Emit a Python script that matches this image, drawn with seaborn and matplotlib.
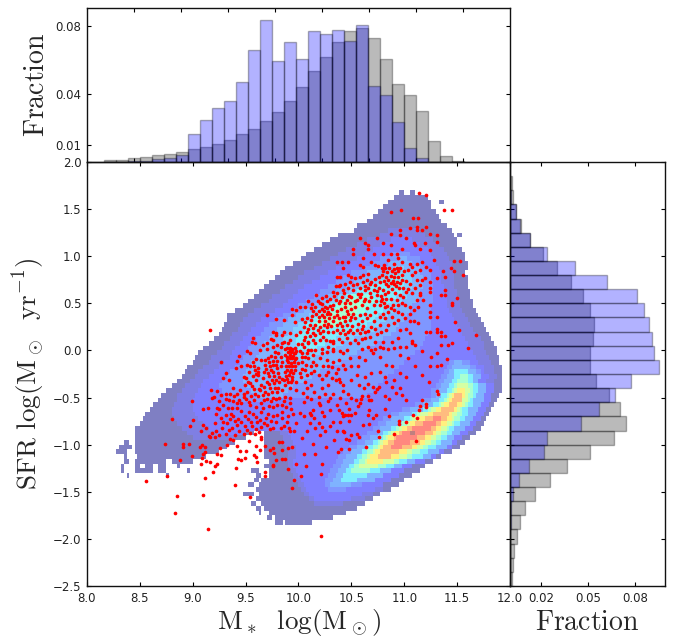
import numpy as np
import matplotlib
matplotlib.use("Agg")
import matplotlib.pyplot as plt
import seaborn as sns

# top histogram, fractions per mass bin
mass_all = [.0012,.0014,.0022,.0029,.0039,.0049,.0059,.0075,.0090,.0108,.0131,.0163,.0194,.0239,.0292,
            .0357,.0443,.0535,.0620,.0704,.0769,.0786,.0727,.0608,.0461,.0394,.0300,.0124,.0037,.0008]
mass_sample = [0,0,.0006,.0006,.0018,.0025,.0041,.0163,.0245,.0316,.0357,.0471,.0657,.0833,.0596,
               .0708,.0608,.0769,.0751,.0775,.0710,.0804,.0449,.0394,.0233,.0084,.0025,.0002,0,0]

# right histogram, fractions per SFR bin, listed from the top bin down
sfr_all = [.0011,.0021,.0040,.0070,.0130,.0209,.0298,.0387,.0464,.0511,.0534,.0530,.0509,.0509,.0551,
           .0632,.0704,.0740,.0664,.0509,.0364,.0253,.0160,.0096,.0062,.0043,.0028,.0021,.0011]
sfr_sample = [0,.0006,.0036,.0062,.0130,.0234,.0415,.0617,.0809,.0855,.0885,.0906,.0919,.0953,.0774,
              .0670,.0570,.0451,.0234,.0217,.0119,.0055,.0021,.0009,.0004,0,0,0,0]

# density map, one row per 0.05 dex from y=1.70 down: x edge, level, x edge, level ... (-1 = empty)
density_rows = [
 [10.96,0,11.00,-1,11.06,0,11.10],
 [10.90,0,11.22],
 [10.85,0,11.24,-1,11.33,0,11.37],
 [10.80,0,11.26],
 [10.76,0,11.30],
 [10.70,0,11.33],
 [10.64,0,11.36],
 [10.56,0,11.39],
 [10.53,0,10.85,.5,11.15,0,11.45],
 [10.37,0,10.78,.5,11.20,0,11.47,-1,11.51,0,11.55],
 [10.30,0,10.65,.5,10.88,1,11.08,.5,11.28,0,11.49],
 [10.22,0,10.55,.5,10.78,1,11.15,.5,11.32,0,11.50],
 [10.15,0,10.45,.5,10.70,1,11.22,.5,11.38,0,11.55],
 [10.08,0,10.38,.5,10.62,1,10.88,1.5,11.05,1,11.25,.5,11.40,0,11.57],
 [10.02,0,10.30,.5,10.55,1,10.78,1.5,10.95,2,11.02,1.5,11.15,1,11.28,.5,11.42,0,11.58],
 [9.95,0,10.22,.5,10.45,1,10.68,1.5,10.85,2,11.08,1.5,11.18,1,11.30,.5,11.44,0,11.60],
 [9.88,0,10.15,.5,10.36,1,10.60,1.5,10.75,2,10.90,2.5,11.00,2,11.15,1.5,11.22,1,11.33,.5,11.45,0,11.60],
 [9.83,0,10.05,.5,10.28,1,10.50,1.5,10.66,2,10.82,2.5,11.05,2,11.15,1.5,11.25,1,11.35,.5,11.47,0,11.58],
 [9.77,0,10.00,.5,10.20,1,10.42,1.5,10.58,2,10.75,2.5,10.88,3,11.00,2.5,11.08,2,11.18,1.5,11.25,1,11.36,.5,11.48,0,11.60],
 [9.72,0,9.95,.5,10.12,1,10.36,1.5,10.52,2,10.68,2.5,10.78,3,11.00,2.5,11.08,2,11.18,1.5,11.27,1,11.36,.5,11.48,0,11.60],
 [9.68,0,9.88,.5,10.05,1,10.28,1.5,10.44,2,10.58,2.5,10.68,3,11.00,2.5,11.08,2,11.18,1.5,11.27,1,11.38,.5,11.48,0,11.60],
 [9.62,0,9.82,.5,10.00,1,10.20,1.5,10.36,2,10.48,2.5,10.56,3,10.98,2.5,11.05,2,11.16,1.5,11.27,1,11.38,.5,11.50,0,11.62],
 [9.57,0,9.76,.5,9.95,1,10.14,1.5,10.28,2,10.38,2.5,10.44,3,10.50,3.5,10.68,3,10.92,2.5,11.02,2,11.14,1.5,11.27,1,11.40,.5,11.50,0,11.62],
 [9.52,0,9.72,.5,9.90,1,10.08,1.5,10.20,2,10.30,2.5,10.36,3,10.42,3.5,10.46,4,10.58,3.5,10.72,3,10.88,2.5,10.98,2,11.12,1.5,11.27,1,11.40,.5,11.52,0,11.64],
 [9.47,0,9.66,.5,9.85,1,10.00,1.5,10.12,2,10.24,2.5,10.30,3,10.36,3.5,10.40,4,10.60,3.5,10.68,3,10.84,2.5,10.95,2,11.08,1.5,11.25,1,11.40,.5,11.52,0,11.65],
 [9.40,0,9.58,.5,9.78,1,9.92,1.5,10.04,2,10.16,2.5,10.24,3,10.30,3.5,10.34,4,10.56,3.5,10.62,3,10.80,2.5,10.90,2,11.05,1.5,11.25,1,11.42,.5,11.55,0,11.68],
 [9.33,0,9.52,.5,9.70,1,9.85,1.5,9.97,2,10.10,2.5,10.18,3,10.24,3.5,10.28,4,10.50,3.5,10.58,3,10.76,2.5,10.86,2,11.02,1.5,11.25,1,11.45,.5,11.58,0,11.70],
 [9.32,0,9.48,.5,9.65,1,9.78,1.5,9.90,2,10.05,2.5,10.12,3,10.18,3.5,10.24,4,10.42,3.5,10.50,3,10.72,2.5,10.82,2,11.00,1.5,11.25,1,11.48,.5,11.60,0,11.72],
 [9.30,0,9.44,.5,9.60,1,9.72,1.5,9.85,2,10.00,2.5,10.08,3,10.16,3.5,10.22,4,10.35,3.5,10.42,3,10.66,2.5,10.78,2,10.96,1.5,11.25,1,11.50,.5,11.62,0,11.75],
 [9.28,0,9.42,.5,9.56,1,9.68,1.5,9.80,2,9.95,2.5,10.04,3,10.55,2.5,10.72,2,10.92,1.5,11.25,1,11.52,.5,11.65,0,11.78],
 [9.25,0,9.38,.5,9.53,1,9.64,1.5,9.76,2,9.90,2.5,10.00,3,10.45,2.5,10.62,2,10.88,1.5,11.22,1,11.55,.5,11.68,0,11.80],
 [9.20,0,9.34,.5,9.48,1,9.60,1.5,9.72,2,9.86,2.5,9.98,3,10.34,2.5,10.52,2,10.80,1.5,11.20,1,11.58,.5,11.72,0,11.83],
 [9.15,0,9.30,.5,9.44,1,9.55,1.5,9.68,2,9.84,2.5,9.98,3,10.25,2.5,10.42,2,10.72,1.5,11.18,1,11.60,.5,11.74,0,11.85],
 [9.10,0,9.27,.5,9.40,1,9.52,1.5,9.65,2,9.84,2.5,10.00,3,10.18,2.5,10.34,2,10.64,1.5,11.15,1,11.62,.5,11.76,0,11.87],
 [9.06,0,9.22,.5,9.37,1,9.50,1.5,9.62,2,9.84,2.5,10.24,2,10.56,1.5,11.10,1,11.65,.5,11.78,0,11.88],
 [9.03,0,9.18,.5,9.34,1,9.47,1.5,9.60,2,9.84,2.5,10.14,2,10.48,1.5,11.05,1,11.68,.5,11.80,0,11.90],
 [9.00,0,9.14,.5,9.30,1,9.44,1.5,9.56,2,10.40,1.5,11.00,1,11.42,1.5,11.48,2,11.56,1.5,11.62,1,11.70,.5,11.82,0,11.90],
 [8.96,0,9.10,.5,9.25,1,9.40,1.5,9.52,2,10.30,1.5,10.95,1,11.40,1.5,11.45,2,11.62,1.5,11.68,1,11.74,.5,11.84,0,11.92],
 [8.93,0,9.06,.5,9.20,1,9.36,1.5,9.50,2,10.20,1.5,10.90,1,11.37,1.5,11.42,2,11.48,3,11.60,2,11.68,1.5,11.72,1,11.76,.5,11.85,0,11.93],
 [8.89,0,9.02,.5,9.15,1,9.32,1.5,9.48,2,10.12,1.5,10.85,1,11.35,1.5,11.40,2,11.47,3,11.52,4,11.60,3,11.66,2,11.72,1,11.80,.5,11.87,0,11.93],
 [8.85,0,8.98,.5,9.10,1,9.28,1.5,9.48,2,10.04,1.5,10.80,1,11.32,1.5,11.38,2,11.45,3,11.50,4,11.60,3,11.64,2,11.70,1,11.78,.5,11.86,0,11.93],
 [8.80,0,8.93,.5,9.07,1,9.26,1.5,9.50,2,9.96,1.5,10.75,1,11.30,1.5,11.35,2,11.42,3,11.47,4,11.50,5,11.60,4,11.64,3,11.70,2,11.78,1,11.86,0,11.93],
 [8.76,0,8.90,.5,9.05,1,9.28,1.5,9.55,2,9.90,1.5,10.70,1,11.26,1.5,11.32,2,11.40,3,11.45,4,11.48,5,11.50,6,11.58,5,11.62,4,11.65,3,11.70,2,11.78,1,11.85,0,11.93],
 [8.71,0,8.86,.5,9.02,1,9.30,1.5,9.60,2,9.84,1.5,10.66,1,11.24,1.5,11.30,2,11.36,3,11.40,4,11.43,5,11.45,6,11.48,7,11.55,6,11.58,5,11.61,4,11.64,3,11.68,2,11.75,1,11.83,0,11.91],
 [8.67,0,8.84,.5,9.00,1,9.34,1.5,9.78,1,11.18,1.5,11.25,2,11.33,3,11.37,4,11.40,5,11.42,6,11.46,7,11.54,6,11.56,5,11.59,4,11.62,3,11.66,2,11.74,1,11.82,0,11.88],
 [8.63,0,8.82,.5,9.00,1,11.10,1.5,11.18,2,11.28,3,11.32,4,11.35,5,11.38,6,11.42,7,11.51,6,11.54,5,11.57,4,11.60,3,11.64,2,11.72,1,11.80,0,11.86],
 [8.60,0,8.80,.5,9.00,1,10.98,1.5,11.05,2,11.17,3,11.22,4,11.26,5,11.30,6,11.35,7,11.47,6,11.50,5,11.53,4,11.56,3,11.61,2,11.70,1,11.77,0,11.83],
 [8.56,0,8.80,.5,9.02,1,10.88,1.5,10.95,2,11.07,3,11.12,4,11.16,5,11.22,6,11.28,7,11.42,6,11.46,5,11.50,4,11.54,3,11.59,2,11.68,1,11.74,0,11.80],
 [8.53,0,8.82,.5,9.05,1,10.80,1.5,10.88,2,11.00,3,11.04,4,11.08,5,11.13,6,11.20,7,11.28,8,11.35,7,11.40,6,11.44,5,11.48,4,11.52,3,11.57,2,11.66,1,11.72,0,11.77],
 [8.49,0,8.85,.5,9.10,1,10.75,1.5,10.83,2,10.94,3,10.98,4,11.02,5,11.06,6,11.10,7,11.18,8,11.30,7,11.36,6,11.40,5,11.44,4,11.48,3,11.53,2,11.62,1,11.68,0,11.75],
 [8.45,0,8.90,.5,9.15,1,10.70,1.5,10.78,2,10.88,3,10.92,4,10.95,5,10.98,6,11.03,7,11.08,8,11.25,7,11.31,6,11.35,5,11.39,4,11.43,3,11.48,2,11.57,1,11.64,0,11.72],
 [8.45,0,8.95,.5,9.22,1,9.50,0,9.58,-1,9.68,0,9.82,.5,9.90,1,10.66,1.5,10.74,2,10.80,3,10.84,4,10.87,5,10.90,6,10.94,7,10.98,8,11.05,9,11.10,8,11.20,7,11.27,6,11.31,5,11.35,4,11.40,3,11.45,2,11.53,1,11.60,0,11.67],
 [8.45,0,9.00,.5,9.40,0,9.50,-1,9.68,0,9.84,.5,9.92,1,10.60,1.5,10.68,2,10.75,3,10.80,4,10.82,5,10.85,6,10.89,7,10.93,8,11.12,7,11.20,6,11.25,5,11.29,4,11.34,3,11.40,2,11.48,1,11.55,0,11.62],
 [8.34,0,8.40,-1,8.45,0,9.40,-1,9.68,0,9.86,.5,9.95,1,10.55,1.5,10.62,2,10.71,3,10.76,4,10.78,5,10.81,6,10.85,7,10.90,8,11.05,7,11.14,6,11.20,5,11.24,4,11.29,3,11.35,2,11.45,1,11.50,0,11.57],
 [8.30,0,8.42,-1,8.45,0,9.33,-1,9.68,0,9.88,.5,9.97,1,10.48,1.5,10.56,2,10.66,3,10.71,4,10.74,5,10.77,6,10.80,7,10.87,8,10.97,7,11.07,6,11.13,5,11.18,4,11.23,3,11.30,2,11.40,1,11.46,0,11.52],
 [8.28,0,8.38,-1,8.46,0,9.25,-1,9.68,0,9.90,.5,9.98,1,10.42,1.5,10.50,2,10.61,3,10.66,4,10.70,5,10.73,6,10.78,7,10.95,6,11.02,5,11.08,4,11.15,3,11.23,2,11.32,1,11.38,0,11.45],
 [8.34,0,8.38,-1,8.48,0,9.13,-1,9.67,0,9.90,.5,9.97,1,10.38,1.5,10.46,2,10.56,3,10.61,4,10.65,5,10.68,6,10.75,7,10.88,6,10.96,5,11.02,4,11.08,3,11.17,2,11.25,1,11.31,0,11.36],
 [8.34,0,8.40,-1,8.46,0,8.76,-1,8.80,0,9.00,-1,9.72,0,9.90,.5,9.95,1,10.35,1.5,10.42,2,10.52,3,10.57,4,10.62,5,10.65,6,10.80,5,10.90,4,10.96,3,11.02,2,11.10,1,11.20,0,11.28],
 [8.32,0,8.36,-1,8.44,0,8.50,-1,8.56,0,8.62,-1,8.68,0,8.76,-1,8.84,0,8.88,-1,9.68,0,9.90,.5,9.95,1,10.32,1.5,10.40,2,10.48,3,10.53,4,10.58,5,10.74,4,10.83,3,10.90,2,10.97,1,11.08,0,11.20],
 [8.32,0,8.36,-1,8.45,0,8.62,-1,8.68,0,8.76,-1,8.94,0,8.98,-1,9.55,0,9.62,-1,9.72,0,9.92,.5,9.97,1,10.30,1.5,10.37,2,10.45,3,10.50,4,10.68,3,10.78,2,10.88,1,11.00,0,11.14],
 [8.37,0,8.40,-1,8.75,0,8.78,-1,9.60,0,9.64,-1,9.72,0,9.94,.5,10.00,1,10.28,1.5,10.35,2,10.42,3,10.64,2,10.80,1,10.95,0,11.07],
 [9.58,0,9.62,-1,9.65,0,9.96,.5,10.02,1,10.26,1.5,10.33,2,10.40,3,10.55,2,10.72,1,10.88,0,11.00],
 [9.52,0,9.58,-1,9.62,0,10.00,.5,10.05,1,10.24,1.5,10.30,2,10.50,1.5,10.60,1,10.80,0,10.95],
 [9.60,0,10.03,.5,10.08,1,10.28,1.5,10.45,1,10.72,.5,10.80,0,10.88],
 [9.47,0,9.58,-1,9.62,0,10.05,.5,10.10,1,10.60,.5,10.70,0,10.78],
 [9.60,0,10.10,.5,10.15,1,10.50,.5,10.62,0,10.70],
 [9.55,0,9.60,-1,9.66,0,10.15,.5,10.42,0,10.63],
 [9.60,0,9.64,-1,9.68,0,10.55],
 [9.62,0,9.66,-1,9.72,0,10.45],
 [9.70,0,9.75,-1,9.77,0,10.33],
 [9.78,0,9.84,-1,9.87,0,10.12],
]

# red points (log mass, log SFR)
red_points = [
 (8.56,-1.39),(8.76,-1.33),(8.85,-1.55),(8.83,-1.72),(9.14,-1.90),(9.10,-1.53),(9.12,-1.35),(9.40,-1.43),(9.54,-1.56),(9.68,-1.33),
 (9.96,-1.38),(9.94,-1.46),(9.90,-1.26),(9.98,-1.20),(9.76,-1.23),(9.68,-1.29),(9.41,-1.25),(9.19,-1.29),(9.21,-1.23),(9.23,-1.21),
 (9.08,-1.21),(8.88,-1.16),(8.99,-1.12),(8.74,-.99),(8.80,-.73),(8.91,-.99),(8.91,-1.02),(8.96,-.99),(8.97,-.80),(9.00,-.74),
 (8.99,-.54),(9.10,-.62),(9.14,-.61),(9.10,-.79),(9.13,-.82),(9.08,-.85),(9.15,-.91),(9.09,-1.00),(9.12,-1.02),(9.07,-1.02),
 (9.12,-1.08),(9.10,-1.10),(9.09,-1.14),(9.13,-1.17),(9.16,-1.18),
 (9.17,-.42),(9.23,-.43),(9.20,-.49),(9.18,-.51),(9.27,-.47),(9.31,-.46),(9.35,-.46),(9.42,-.46),(9.34,-.53),(9.38,-.54),(9.44,-.53),
 (9.23,-.61),(9.33,-.61),(9.37,-.61),(9.42,-.61),(9.46,-.64),(9.53,-.65),(9.57,-.67),(9.65,-.65),(9.71,-.67),(9.76,-.70),(9.80,-.69),(9.84,-.65),(9.95,-.67),
 (9.22,-.67),(9.27,-.72),(9.32,-.77),(9.38,-.70),(9.43,-.73),(9.51,-.84),(9.42,-.79),(9.37,-.82),(9.29,-.76),(9.21,-.77),(9.22,-.85),(9.18,-.88),(9.16,-.92),(9.21,-.92),(9.25,-.90),
 (9.31,-.89),(9.35,-.94),(9.38,-.95),(9.32,-1.00),(9.26,-1.04),(9.42,-1.01),(9.27,-1.11),(9.23,-1.10),(9.45,-1.07),(9.50,-1.07),(9.43,-1.15),
 (9.46,-1.16),(9.49,-1.14),(9.53,-.96),(9.59,-.89),(9.60,-1.01),(9.65,-.92),(9.65,-.94),(9.64,-1.06),(9.68,-1.01),(9.58,-1.11),(9.60,-1.13),
 (9.61,-1.18),(9.73,-1.06),(9.76,-1.04),(9.77,-1.09),(9.79,-1.16),(9.84,-1.15),(9.87,-1.15),(9.90,-1.04),(9.94,-1.02),(9.84,-.97),(9.82,-.97),
 (9.84,-1.06),(9.76,-1.22),(9.67,-.77),(9.61,-.76),(9.55,-.76),(9.73,-.83),(9.83,-.82),(9.91,-.82),(9.92,-.86),(9.96,-.86),(9.98,-.77),(9.89,-.76),(9.79,-.76),
 (9.16,.22),(9.27,-.12),(9.31,-.24),(9.29,-.29),(9.34,-.31),(9.41,-.19),(9.42,-.11),(9.44,-.06),(9.38,-.40),
 # main sequence, left part
 (10.17,.59),(10.27,.53),(10.20,.50),(10.16,.46),(10.22,.44),(10.27,.45),(10.30,.47),(10.17,.39),(10.22,.38),(10.27,.39),(10.09,.52),(10.06,.46),(10.01,.46),
 (10.12,.45),(9.94,.44),(9.94,.38),(9.98,.43),(9.70,.38),(9.79,.33),(9.86,.32),(9.97,.30),(10.03,.33),(10.08,.34),(10.12,.32),(10.19,.31),(10.25,.31),
 (10.16,.27),(10.05,.25),(10.09,.23),(10.20,.25),(10.27,.25),(10.01,.20),(10.08,.20),(10.14,.18),(10.20,.18),(10.28,.20),(9.76,.20),(9.79,.18),(9.86,.20),(9.92,.18),
 (9.84,.16),(9.79,.16),(9.76,.11),(9.92,.11),(10.14,.11),(10.20,.11),(10.09,.09),(10.16,.08),(9.57,.13),(9.56,.09),(9.59,.08),(9.84,.08),(9.86,.09),
 (9.98,.16),(10.09,.08),(10.05,.11),(9.90,.08),(9.51,-.01),(9.54,-.03),(9.64,.01),(9.70,.02),(9.76,.04),(9.83,.04),(9.87,.02),(9.92,.01),(9.94,.00),(9.97,-.03),
 (9.92,-.05),(9.87,-.05),(9.83,-.07),(9.78,-.07),(9.98,-.01),(10.01,-.01),(10.05,.04),(10.09,.01),(10.03,-.03),(10.06,-.07),(10.12,.00),(10.16,.00),(10.22,.02),
 (10.28,.04),(10.33,.02),(10.33,-.01),(10.39,-.01),(10.42,-.03),(10.46,.01),(9.57,-.12),(9.51,-.15),(9.46,-.17),(9.54,-.17),(9.59,-.21),(9.62,-.19),(9.68,-.15),
 (9.73,-.17),(9.76,-.15),(9.79,-.15),(9.84,-.12),(9.89,-.10),(9.94,-.08),(9.98,-.08),(10.03,-.12),(10.09,-.08),(10.14,-.12),(10.20,-.08),(10.27,-.10),
 (10.33,-.12),(10.38,-.10),(10.42,-.15),(10.57,-.07),(10.49,-.08),(9.48,-.28),(9.53,-.23),(9.62,-.26),(9.67,-.23),(9.71,-.24),(9.76,-.23),(9.81,-.24),
 (9.87,-.23),(9.92,-.23),(9.97,-.21),(10.01,-.24),(10.06,-.21),(10.12,-.24),(10.22,-.30),(10.28,-.23),(10.35,-.24),(10.38,-.30),
 (9.45,-.42),(9.49,-.37),(9.54,-.35),(9.60,-.31),(9.65,-.37),(9.70,-.33),(9.75,-.31),(9.79,-.31),(9.84,-.30),(9.89,-.30),(9.94,-.31),(9.98,-.33),(10.06,-.33),
 (10.12,-.37),(10.35,-.31),(10.39,-.33),(9.48,-.46),(9.59,-.46),(9.64,-.42),(9.68,-.44),(9.73,-.40),(9.78,-.40),(9.81,-.40),(9.87,-.37),(9.92,-.40),
 (9.98,-.42),(10.22,-.40),(10.28,-.37),(10.33,-.46),(10.42,-.37),(10.57,-.37),(9.46,-.56),(9.48,-.49),(9.67,-.53),(9.76,-.51),(9.87,-.49),(9.92,-.51),
 (10.08,-.49),(10.19,-.49),(10.19,-.56),(10.39,-.51),(10.47,-.46),(9.54,-.58),(9.84,-.58),(9.92,-.56),(10.20,-.58),(10.28,-.54),
 # denser clumps around the sequence
 (9.89,.03),(9.92,.03),(9.94,.02),(9.97,.03),(9.90,-.02),(9.93,-.02),(9.96,-.03),(9.89,-.07),(9.92,-.08),(9.95,-.06),(9.97,-.09),(9.90,-.12),(9.93,-.13),(9.96,-.12),
 (9.88,-.16),(9.91,-.17),(9.94,-.16),(9.97,-.17),(9.89,-.21),(9.93,-.21),(9.95,-.24),(9.88,-.27),(9.91,-.26),(9.94,-.28),(9.86,-.31),(9.90,-.33),(9.93,-.34),
 (9.78,-.02),(9.81,-.03),(9.74,-.06),(9.71,-.08),(9.68,-.10),(9.65,-.10),(9.80,-.11),(9.76,-.11),(9.72,-.12),(9.60,-.09),(9.58,-.17),(9.62,-.23),(9.69,-.20),(9.74,-.21),
 (9.80,-.19),(9.83,-.17),(9.57,-.27),(9.60,-.25),(9.66,-.29),(9.72,-.27),(9.77,-.27),(9.82,-.28),(9.50,-.29),(9.52,-.34),(9.56,-.38),(9.58,-.41),(9.63,-.41),(9.67,-.39),
 (9.72,-.36),(9.77,-.35),(9.82,-.34),(9.51,-.44),(9.55,-.48),(9.62,-.48),(9.66,-.47),(9.71,-.46),(9.75,-.44),(9.80,-.44),(9.84,-.42),(9.50,-.52),(9.53,-.55),(9.58,-.53),
 (9.65,-.56),(9.70,-.52),(9.74,-.54),(9.79,-.52),(9.82,-.50),(9.86,-.54),(9.60,-.60),(9.66,-.61),(9.72,-.59),(9.76,-.60),(9.80,-.58),(9.88,-.60),(9.93,-.62),(9.49,-.70),
 (9.52,-.73),(9.60,-.71),(9.64,-.74),(9.69,-.72),(9.74,-.75),(9.84,-.72),(9.90,-.70),(9.46,-.76),(9.49,-.80),(9.56,-.80),(9.60,-.83),(9.65,-.81),(9.70,-.79),(9.76,-.82),
 (9.86,-.80),(9.44,-.86),(9.48,-.89),(9.54,-.88),(9.63,-.87),(9.40,-.90),(9.34,-.84),(9.28,-.82),(9.25,-.62),(9.29,-.58),(9.31,-.52),(9.25,-.54),(9.39,-.48),(9.42,-.56),
 (9.36,-.67),(9.31,-.68),(9.40,-.75),(9.35,-.73),(9.80,.06),(9.70,.08),(9.66,.06),(9.74,.12),(10.00,.07),(10.03,.07),(10.06,.14),(10.11,.15),(10.16,.16),(10.23,.14),
 (10.26,.11),(10.30,.10),(10.33,.08),(10.06,.30),(10.11,.27),(10.14,.24),(10.18,.22),(10.23,.21),(10.24,.27),(10.28,.28),(10.13,.37),(10.19,.36),(10.24,.35),(10.29,.34),
 (10.14,.42),(10.19,.42),(10.24,.42),(10.28,.41),(10.13,.49),(10.18,.53),(10.22,.49),(10.25,.46),(10.26,.58),(10.22,.56),(10.32,.44),(10.36,.42),(10.40,.44),(10.46,.42),
 (10.50,.44),(10.34,.35),(10.38,.34),(10.44,.36),(10.50,.35),(10.31,.26),(10.36,.27),(10.41,.26),(10.46,.27),(10.51,.26),(10.56,.28),(10.61,.26),(10.33,.20),(10.39,.18),
 (10.44,.17),(10.47,.20),(10.55,.22),(10.60,.23),(10.66,.21),(10.33,.10),(10.38,.12),(10.41,.09),(10.49,.08),(10.56,.08),(10.60,.12),(10.68,.14),(10.74,.17),(10.72,.23),
 (10.78,.20),(10.83,.22),(10.34,.58),(10.39,.52),(10.44,.50),(10.48,.58),(10.53,.52),(10.56,.60),(10.62,.52),(10.67,.52),(10.73,.53),(10.78,.52),(10.81,.50),(10.84,.47),
 (10.89,.48),(10.38,.68),(10.43,.61),(10.52,.69),(10.59,.60),(10.63,.68),(10.68,.61),(10.74,.63),(10.78,.58),(10.82,.60),(10.85,.68),(10.88,.65),(10.92,.68),(10.95,.66),
 (10.99,.66),(11.04,.65),(10.76,.78),(10.72,.76),(10.68,.71),(10.81,.74),(10.87,.72),(10.90,.71),(10.96,.72),(11.02,.74),(11.05,.70),(11.00,.84),(11.04,.85),(10.81,.91),
 (10.75,.90),(10.90,.92),(10.96,.88),(11.10,.83),(10.83,.71),(10.27,-.02),(10.22,-.03),(10.14,-.05),(10.08,-.03),(10.03,-.07),(10.00,-.13),(10.07,-.15),(10.12,-.17),
 (10.17,-.15),(10.23,-.17),(10.28,-.17),(10.32,-.18),(10.37,-.20),(10.44,-.20),(10.50,-.16),(10.56,-.17),(10.03,-.20),(10.08,-.26),(10.15,-.22),(10.19,-.26),(10.26,-.26),
 (10.32,-.29),(10.02,-.28),(10.08,-.40),(10.15,-.44),(10.04,-.45),(10.12,-.52),(10.05,-.55),(10.25,-.46),(10.30,-.50),(10.42,-.43),(10.45,-.56),(10.50,-.50),(10.54,-.53),
 (10.62,-.40),(10.66,-.36),(10.70,-.39),(10.48,-.62),(10.36,-.58),(10.30,-.63),(10.15,-.72),(10.30,-.80),(10.36,-.86),(10.20,-.90),(10.08,-.86),(10.03,-.93),
 # main sequence, right part
 (11.05,1.30),(11.12,1.31),(11.12,1.28),(11.21,1.31),(11.17,1.28),(11.24,1.24),(11.31,1.22),(10.96,1.28),(10.96,1.22),(10.87,1.24),(10.74,1.19),(10.80,1.14),
 (10.58,1.19),(10.63,1.14),(10.52,1.08),(10.52,1.02),(10.66,1.12),(10.66,1.08),(10.87,1.12),(10.98,1.08),(11.02,1.19),(11.09,1.14),(11.10,1.12),(11.15,1.08),
 (11.20,1.14),(11.24,1.07),(11.31,1.15),(10.71,1.02),(10.80,1.02),(10.61,.98),(10.69,.94),(10.72,.91),(10.58,.91),(10.61,.89),(10.47,.94),(10.41,.94),(10.36,.94),
 (10.42,.87),(10.87,1.02),(10.93,1.02),(10.94,.98),(10.85,.96),(10.98,.94),(11.05,.92),(11.07,.89),(11.12,.92),(11.17,.94),(11.21,.89),(11.28,.96),
 (11.24,.85),(11.15,.85),(11.07,.80),(11.12,.75),(11.17,.75),(11.20,.77),(11.24,.73),(11.31,.77),(11.37,.84),(11.39,.78),(11.24,.66),(11.15,.69),(11.10,.66),
 (11.35,.59),(11.39,.64),(11.39,.59),(11.24,.62),(11.15,.61),(11.15,.59),(11.12,.54),(11.18,.54),(11.24,.48),(11.13,.46),(11.09,.43),(11.05,.39),(11.05,.31),
 (11.09,.31),(11.31,.36),(11.24,.41),(11.24,.36),(11.35,.15),(11.39,.15),(11.13,.29),(11.21,.20),(11.31,.20),(11.24,.20),
 (10.79,.88),(10.82,.87),(10.86,.88),(10.90,.86),(10.93,.87),(10.80,.84),(10.84,.83),(10.88,.84),(10.91,.82),(10.94,.84),(10.79,.80),(10.83,.78),(10.87,.79),
 (10.90,.78),(10.94,.78),(10.85,.75),(10.89,.74),(10.93,.73),(10.98,.80),(10.98,.75),
 (10.36,.78),(10.39,.78),(10.47,.80),(10.50,.78),(10.53,.77),(10.58,.78),(10.61,.80),(10.66,.81),(10.35,.68),(10.39,.69),(10.44,.71),(10.49,.73),(10.55,.71),
 (10.61,.73),(10.65,.75),(10.69,.73),(10.72,.69),(10.77,.73),(10.33,.62),(10.36,.61),(10.42,.64),(10.47,.66),(10.52,.64),(10.58,.66),(10.63,.64),(10.66,.66),
 (10.71,.64),(10.76,.66),(10.80,.64),(10.85,.62),(10.91,.61),(10.96,.59),(10.99,.57),(11.02,.62),(11.07,.61),(10.30,.55),(10.35,.54),(10.41,.57),(10.46,.54),
 (10.50,.57),(10.55,.54),(10.58,.57),(10.63,.55),(10.69,.57),(10.74,.59),(10.79,.55),(10.83,.55),(10.87,.55),(10.93,.54),(10.98,.50),(11.01,.48),(11.05,.46),
 (10.33,.48),(10.38,.50),(10.44,.46),(10.49,.50),(10.53,.46),(10.60,.48),(10.65,.45),(10.71,.48),(10.77,.48),(10.82,.46),(10.87,.45),(10.94,.48),(10.30,.39),
 (10.36,.38),(10.42,.36),(10.47,.39),(10.52,.39),(10.58,.38),(10.63,.39),(10.68,.38),(10.72,.41),(10.80,.39),(10.85,.41),(10.90,.43),(10.94,.41),(10.98,.39),
 (10.33,.31),(10.39,.29),(10.44,.31),(10.49,.32),(10.53,.34),(10.60,.31),(10.65,.34),(10.71,.31),(10.77,.36),(10.82,.34),(10.88,.36),(10.94,.32),(11.01,.34),
 (10.36,.22),(10.42,.22),(10.49,.22),(10.52,.18),(10.58,.18),(10.63,.20),(10.69,.25),(10.77,.27),(10.85,.27),(10.90,.29),(10.96,.22),(11.02,.23),(10.46,.13),
 (10.53,.11),(10.63,.13),(10.72,.09),(10.80,.09),(10.88,.09),(10.94,.13),(11.05,.18),(11.07,.10),(11.31,.23),(11.35,.20),
 (11.14,1.67),(11.21,1.65),(11.38,1.49),(11.45,1.49),(10.87,1.47),(10.97,1.49),(11.08,1.41),(11.13,1.41),(11.47,.95),(11.53,.95),(11.44,.87),
 (11.47,.84),(11.56,.80),(11.50,.56),(11.45,.50),(11.45,.48),(11.48,.30),(11.52,.22),(11.68,.16),(11.60,.03),(11.40,-.09),(11.45,.08),(11.41,.06),
 (11.35,.06),(11.31,-.03),(11.25,-.07),(11.35,-.15),(11.31,-.17),(11.24,-.17),(11.17,-.01),(11.10,.06),(11.07,.08),(11.02,.04),(10.96,.04),(10.90,.03),(10.85,.02),
 (10.80,.03),(10.77,.04),(10.72,.02),(10.66,.04),(10.60,.02),
 (10.69,.00),(10.70,-.03),(10.63,-.10),(10.77,-.07),(10.83,-.15),(10.88,-.17),(10.96,-.05),(11.04,-.08),
 (11.10,-.17),(11.17,-.26),(11.23,-.33),(11.02,-.28),(10.96,-.24),(10.90,-.31),(10.82,-.28),(10.77,-.23),(10.69,-.24),(10.63,-.28),(10.55,-.26),
 (10.50,-.31),
 # lower right
 (11.31,-.43),(11.32,-.46),(11.17,-.53),(11.21,-.57),(11.21,-.60),(11.15,-.59),(11.14,-.63),(11.08,-.69),(11.12,-.72),(11.02,-.76),(10.95,-.75),
 (10.95,-.78),(10.90,-.89),(11.11,-.96),(10.75,-.85),(10.76,-.92),(10.64,-1.03),(10.86,-.70),(10.73,-.69),(10.66,-.69),(10.70,-.72),(10.67,-.78),
 (10.61,-.79),(10.67,-.63),(10.82,-.62),(11.02,-.53),(10.98,-.47),(10.92,-.45),(10.82,-.48),(10.86,-.52),(10.72,-.44),(10.74,-.41),(10.76,-.39),
 (10.88,-.39),(10.96,-.40),(10.83,-.34),(10.66,-.48),(10.60,-.48),(10.59,-.52),(10.58,-.56),(10.56,-.59),(10.69,-.53),(10.67,-.53),(10.53,-.66),
 (10.50,-.69),(10.47,-.68),(10.44,-.68),(10.42,-.70),(10.41,-.66),(10.38,-.63),(10.48,-.75),(10.39,-.76),(10.33,-.76),(10.19,-.77),
 (10.11,-.77),(10.22,-.81),(10.16,-.82),(10.25,-.85),(10.42,-.85),(10.43,-.87),(10.50,-.90),(10.55,-.89),(10.57,-.92),(10.34,-.95),(10.45,-.94),
 (10.48,-.95),(10.14,-.99),(10.26,-1.02),(10.48,-1.05),(10.40,-1.05),(10.37,-1.08),(10.05,-1.10),(10.16,-1.10),(10.22,-1.20),(10.07,-1.23),
 (10.02,-1.33),(10.21,-1.31),(10.21,-1.97),(10.14,-.63),(10.11,-.66),(10.12,-.69),(10.22,-.65),(10.05,-.70),(10.01,-.66),(10.24,-.70),
]

sns.set_style("ticks")
plt.rcParams["mathtext.fontset"] = "cm"
plt.rcParams["font.family"] = "DejaVu Sans"

W, H = 678, 639
fig = plt.figure(figsize=(W / 100, H / 100), dpi=100)
ax = fig.add_axes([87 / W, (H - 586) / H, 423 / W, 424 / H])
ax_top = fig.add_axes([87 / W, (H - 162) / H, 423 / W, 154 / H])
ax_right = fig.add_axes([510 / W, (H - 586) / H, 155 / W, 424 / H])

# density map
x_edges = np.linspace(8, 12, 161)
y_tops = 1.70 - 0.05 * np.arange(len(density_rows) + 1)
grid = np.full((len(density_rows), 160), np.nan)
for i, row in enumerate(density_rows):
    for left, level, right in zip(row[0::2], row[1::2], row[2::2]):
        if level < 0:
            continue
        a, b = int(round((left - 8) / 0.025)), int(round((right - 8) / 0.025))
        grid[i, a:b] = level
# jet over white, level 9 is the top of the map
ax.pcolormesh(x_edges, y_tops, 0.01 + grid * 0.11, cmap="jet", vmin=0, vmax=1, alpha=0.5, shading="flat", linewidth=0)

pts = np.array(red_points)
sns.scatterplot(x=pts[:, 0], y=pts[:, 1], color="red", s=7, linewidth=0, ax=ax, zorder=3)

ax.set_xlim(8, 12)
ax.set_ylim(-2.5, 2)
ax.set_xticks(np.arange(8, 12.1, 0.5))
ax.set_yticks(np.arange(-2.5, 2.1, 0.5))
ax.set_xticklabels([f"{v:.1f}" for v in np.arange(8, 12.1, 0.5)])
ax.set_yticklabels([f"{v:.1f}".replace("-", "\u2212") for v in np.arange(-2.5, 2.1, 0.5)])
ax.set_xlabel(r"$\mathrm{M_*\ \ log(M_\odot)}$", fontsize=19.5, va="center")
ax.set_ylabel(r"$\mathrm{SFR\ log(M_\odot\ \ yr^{-1})}$", fontsize=19.5, va="center")
ax.xaxis.set_label_coords(0.5, -0.085)
ax.yaxis.set_label_coords(-0.135, 0.5)

# top histogram
edge_col = (0, 0, 0, 0.3)
mass_lo, mass_hi = 8.163, 8.163 + 30 * 0.1135
mass_mid = np.linspace(mass_lo, mass_hi, 31)[:-1] + 0.1135 / 2
sns.histplot(x=mass_mid, weights=mass_all, bins=30, binrange=(mass_lo, mass_hi), color="k", alpha=0.27, edgecolor=edge_col, linewidth=1, ax=ax_top)
sns.histplot(x=mass_mid, weights=mass_sample, bins=30, binrange=(mass_lo, mass_hi), color="b", alpha=0.3, edgecolor=edge_col, linewidth=1, ax=ax_top)
ax_top.set_xlim(8, 12)
ax_top.set_ylim(0, 0.0906)
ax_top.set_xticks(8 + np.arange(1, 9) * 4 / 9)
ax_top.set_xticklabels([])
ax_top.set_yticks([0.01, 0.04, 0.08])
ax_top.set_yticklabels(["0.01", "0.04", "0.08"])
ax_top.set_xlabel("")
ax_top.set_ylabel(r"$\mathrm{Fraction}$", fontsize=20, va="center")
ax_top.yaxis.set_label_coords(-0.121, 0.5)

# right histogram
sfr_mid = 1.85 - 0.15 * (np.arange(29) + 0.5)
sns.histplot(y=sfr_mid, weights=sfr_all, bins=29, binrange=(-2.5, 1.85), color="k", alpha=0.27, edgecolor=edge_col, linewidth=1, ax=ax_right)
sns.histplot(y=sfr_mid, weights=sfr_sample, bins=29, binrange=(-2.5, 1.85), color="b", alpha=0.3, edgecolor=edge_col, linewidth=1, ax=ax_right)
ax_right.set_ylim(-2.5, 2)
ax_right.set_xlim(0, 0.099)
ax_right.set_xticks([0.02, 0.05, 0.08])
ax_right.set_xticklabels(["0.02", "0.05", "0.08"])
ax_right.set_yticks(np.arange(-2.5, 2.1, 0.5))
ax_right.set_yticklabels([])
ax_right.set_ylabel("")
ax_right.set_xlabel(r"$\mathrm{Fraction}$", fontsize=20, va="center")
ax_right.xaxis.set_label_coords(0.5, -0.085)

for a in (ax, ax_top, ax_right):
    a.tick_params(direction="in", top=True, right=True, length=3.2, width=0.8, labelsize=8.5, pad=4, color="k", labelcolor="#222222")
    for s in a.spines.values():
        s.set_linewidth(1)
        s.set_visible(True)
        s.set_color("#111111")
ax_top.patch.set_alpha(0)
ax_right.patch.set_alpha(0)

fig.savefig("out.png", dpi=100)
